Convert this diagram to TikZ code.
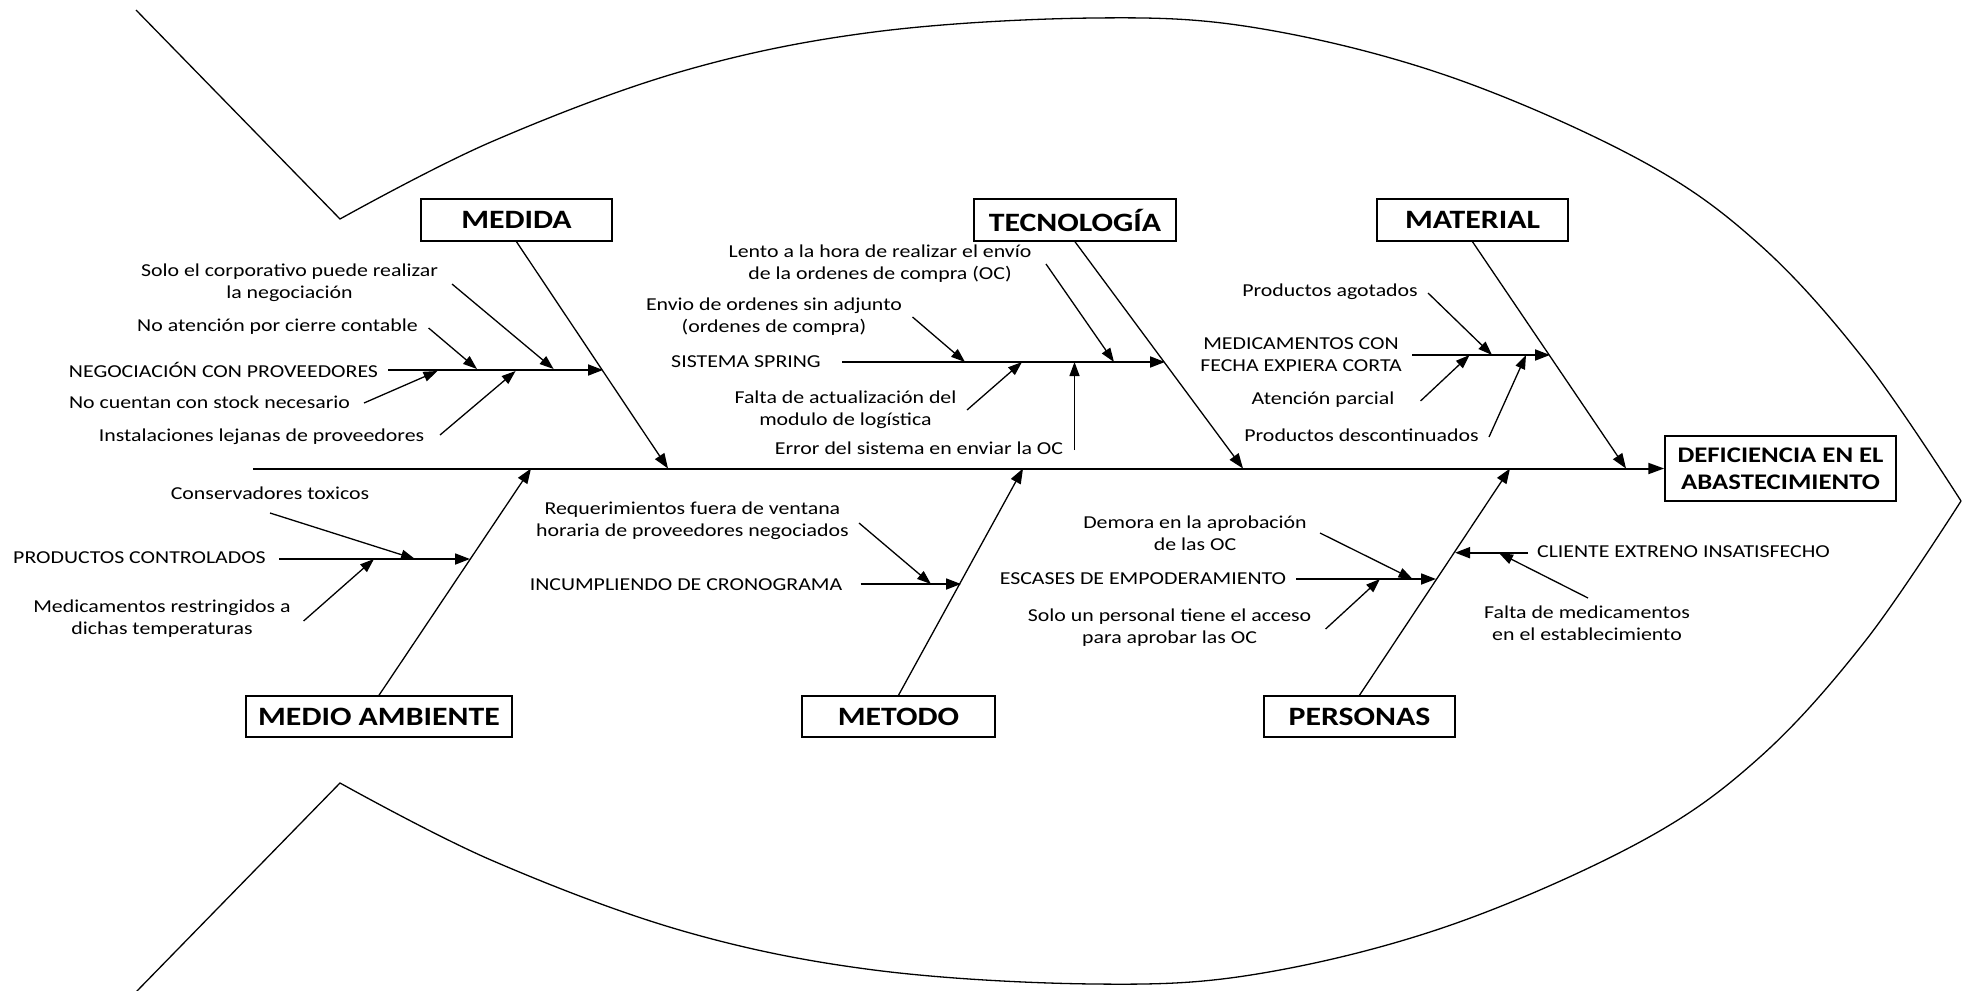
\documentclass[tikz,border=0pt]{standalone}
\usepackage{fontspec}
\setmainfont{Carlito}[FakeStretch=1.2]
\usetikzlibrary{arrows.meta}
\begin{document}
\begin{tikzpicture}[x=1pt,y=-1pt,
  lbl/.style={inner sep=0pt, align=center, font=\fontsize{18.2}{22}\selectfont},
  cat/.style={draw, line width=1.5pt, inner sep=0pt, font=\fontsize{26.5}{30}\selectfont\bfseries},
  effect/.style={draw, line width=1.5pt, inner sep=0pt, align=center, font=\fontsize{22.3}{26.7}\selectfont\bfseries},
  outline/.style={line width=1.3pt},
  spine/.style={line width=2pt, -{Triangle[length=16pt,width=11pt]}},
  bone/.style={line width=1.3pt, -{Triangle[length=15pt,width=11pt]}},
  subline/.style={line width=1.8pt, -{Triangle[length=15pt,width=11pt]}},
  cause/.style={line width=1.3pt, -{Triangle[length=14pt,width=10pt]}}
]
\useasboundingbox (0,0) rectangle (1969,990);
\fill[white] (0,0) rectangle (1969,990);

% fish outline
\draw[outline] (136,10) -- plot[smooth,tension=0.6] coordinates {(340,219) (491,142) (683,71) (874,32) (1094,18) (1257,28) (1448,76) (1640,160) (1760,245) (1866,362) (1961,501)};
\draw[outline] plot[smooth,tension=0.6] coordinates {(1961,501) (1866,640) (1760,757) (1640,842) (1448,926) (1257,974) (1094,984) (874,970) (683,931) (491,860) (340,783)} -- (136,992);

% category boxes
\node[cat, minimum width=191pt, minimum height=42pt] (medida) at (516.5,220) {MEDIDA};
\node[cat, minimum width=202pt, minimum height=42pt] (tecno) at (1075,220) {TECNOLOGÍA};
\node[cat, minimum width=191pt, minimum height=42pt] (material) at (1472.5,220) {MATERIAL};
\node[cat, minimum width=266pt, minimum height=41pt] (medio) at (379,716.5) {MEDIO AMBIENTE};
\node[cat, minimum width=193pt, minimum height=41pt] (metodo) at (898.5,716.5) {METODO};
\node[cat, minimum width=191pt, minimum height=41pt] (personas) at (1359.5,716.5) {PERSONAS};
\node[effect, minimum width=231pt, minimum height=65pt] (efecto) at (1780.5,468.5) {DEFICIENCIA EN EL\\ABASTECIMIENTO};

% spine
\coordinate (tail) at (253,468.5);
\draw[spine] (tail) -- (efecto.west);

% main bones
\coordinate (jMed) at (668,468.5);
\coordinate (jTec) at (1243,468.5);
\coordinate (jMat) at (1626,468.5);
\coordinate (jAmb) at (531,468.5);
\coordinate (jMet) at (1023,468.5);
\coordinate (jPer) at (1510,468.5);
\draw[bone] (medida.south) -- (jMed);
\draw[bone] (tecno.south) -- (jTec);
\draw[bone] (material.south) -- (jMat);
\draw[bone] (medio.north) -- (jAmb);
\draw[bone] (metodo.north) -- (jMet);
\draw[bone] (personas.north) -- (jPer);

% ---- MEDIDA ----
\node[lbl] (tSolo) at (289.5,282.4) {Solo el corporativo puede realizar\\la negociación};
\node[lbl] (tNoAt) at (277.5,327) {No atención por cierre contable};
\node[lbl] (tNeg) at (223.5,370) {NEGOCIACIÓN CON PROVEEDORES};
\node[lbl] (tNoCu) at (209.5,402) {No cuentan con stock necesario};
\node[lbl] (tInst) at (261.5,437) {Instalaciones lejanas de proveedores};
\coordinate (negS) at (388,370);
\coordinate (negE) at (603,370);
\draw[subline] (negS) -- (negE);
\coordinate (soloS) at (452,284); \coordinate (soloE) at (553.6,369);
\coordinate (noatS) at (428.6,328); \coordinate (noatE) at (477,369);
\coordinate (nocuS) at (364,403); \coordinate (nocuE) at (437.5,371);
\coordinate (instS) at (440,435); \coordinate (instE) at (515.6,371);
\draw[cause] (soloS) -- (soloE);
\draw[cause] (noatS) -- (noatE);
\draw[cause] (nocuS) -- (nocuE);
\draw[cause] (instS) -- (instE);

% ---- TECNOLOGIA ----
\node[lbl] (tLento) at (880,264) {Lento a la hora de realizar el envío\\de la ordenes de compra (OC)};
\node[lbl] (tEnvio) at (774,317) {Envio de ordenes sin adjunto\\(ordenes de compra)};
\node[lbl] (tSist) at (746,362) {SISTEMA SPRING};
\node[lbl] (tFalta) at (845.5,409.5) {Falta de actualización del\\modulo de logística};
\node[lbl] (tError) at (919,448) {Error del sistema en enviar la OC};
\coordinate (ssS) at (842,362);
\coordinate (ssE) at (1165,362);
\draw[subline] (ssS) -- (ssE);
\coordinate (lentoS) at (1046,264); \coordinate (lentoE) at (1114,362);
\coordinate (envioS) at (912.5,317); \coordinate (envioE) at (965,362);
\coordinate (faltaS) at (967,410); \coordinate (faltaE) at (1022,362);
\coordinate (errorS) at (1074.5,450); \coordinate (errorE) at (1074.5,362);
\draw[cause] (lentoS) -- (lentoE);
\draw[cause] (envioS) -- (envioE);
\draw[cause] (faltaS) -- (faltaE);
\draw[cause] (errorS) -- (errorE);

% ---- MATERIAL ----
\node[lbl] (tAgot) at (1330,292) {Productos agotados};
\node[lbl] (tMedic) at (1301,355) {MEDICAMENTOS CON\\FECHA EXPIERA CORTA};
\node[lbl] (tAten) at (1323,400) {Atención parcial};
\node[lbl] (tDesc) at (1361.5,435) {Productos descontinuados};
\coordinate (medS) at (1412,355);
\coordinate (medE) at (1550,355);
\draw[subline] (medS) -- (medE);
\coordinate (agotS) at (1428,293); \coordinate (agotE) at (1492,355);
\coordinate (atenS) at (1420.5,401); \coordinate (atenE) at (1469.6,355);
\coordinate (descS) at (1489,437); \coordinate (descE) at (1526,355);
\draw[cause] (agotS) -- (agotE);
\draw[cause] (atenS) -- (atenE);
\draw[cause] (descS) -- (descE);

% ---- MEDIO AMBIENTE ----
\node[lbl] (tCons) at (270,493) {Conservadores toxicos};
\node[lbl] (tProd) at (139.5,558) {PRODUCTOS CONTROLADOS};
\node[lbl] (tRestr) at (162,618.5) {Medicamentos restringidos a\\dichas temperaturas};
\coordinate (pcS) at (279,559);
\coordinate (pcE) at (470,559);
\draw[subline] (pcS) -- (pcE);
\coordinate (consS) at (270,513); \coordinate (consE) at (415,559);
\coordinate (restrS) at (303.6,621); \coordinate (restrE) at (374,559);
\draw[cause] (consS) -- (consE);
\draw[cause] (restrS) -- (restrE);

% ---- METODO ----
\node[lbl] (tReq) at (692.4,521) {Requerimientos fuera de ventana\\horaria de proveedores negociados};
\node[lbl] (tInc) at (686,585) {INCUMPLIENDO DE CRONOGRAMA};
\coordinate (incS) at (860.7,584);
\coordinate (incE) at (961,584);
\draw[subline] (incS) -- (incE);
\coordinate (reqS) at (859,523); \coordinate (reqE) at (931,584);
\draw[cause] (reqS) -- (reqE);

% ---- PERSONAS ----
\node[lbl] (tDem) at (1195,533) {Demora en la aprobación\\de las OC};
\node[lbl] (tEsc) at (1143,579) {ESCASES DE EMPODERAMIENTO};
\node[lbl] (tSoloUn) at (1169.6,628) {Solo un personal tiene el acceso\\para aprobar las OC};
\node[lbl] (tCli) at (1683.5,552) {CLIENTE EXTRENO INSATISFECHO};
\node[lbl] (tFaltaM) at (1587,623.5) {Falta de medicamentos\\en el establecimiento};
\coordinate (escS) at (1296,579);
\coordinate (escE) at (1436,579);
\draw[subline] (escS) -- (escE);
\coordinate (cliS) at (1528,552.7);
\coordinate (cliE) at (1455,552.7);
\draw[subline] (cliS) -- (cliE);
\coordinate (demS) at (1320,533); \coordinate (demE) at (1412.6,579);
\coordinate (soloUnS) at (1325.6,629); \coordinate (soloUnE) at (1380,579);
\coordinate (faltaMS) at (1588,598); \coordinate (faltaME) at (1499,553);
\draw[cause] (demS) -- (demE);
\draw[cause] (soloUnS) -- (soloUnE);
\draw[cause] (faltaMS) -- (faltaME);
\end{tikzpicture}
\end{document}
